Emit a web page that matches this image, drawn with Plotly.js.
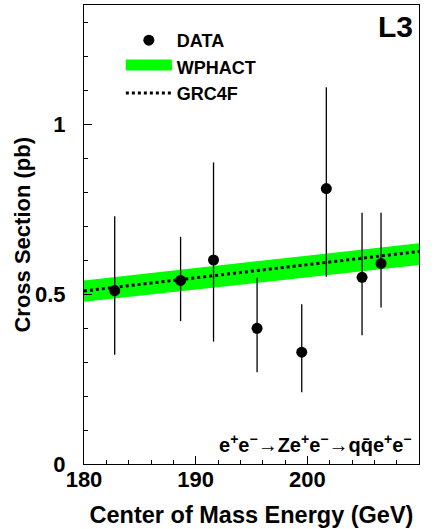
<!DOCTYPE html>
<html>
<head>
<meta charset="utf-8">
<script src="https://cdn.plot.ly/plotly-3.0.1.min.js"></script>
<style>html,body{margin:0;padding:0;background:#fff;}#chart{width:436px;height:529px;}</style>
</head>
<body>
<div id="chart"></div>
<script>
// Measured data (L3, e+e- -> Z e+e- -> q qbar e+e-)
const energy   = [182.75, 188.65, 191.6, 195.5, 199.5, 201.7, 204.9, 206.6];
const xsec     = [0.510, 0.540, 0.600, 0.399, 0.329, 0.810, 0.549, 0.590];
const errUp    = [0.219, 0.128, 0.287, 0.149, 0.141, 0.298, 0.190, 0.149];
const errDown  = [0.189, 0.120, 0.240, 0.129, 0.118, 0.259, 0.170, 0.130];

// WPHACT band and GRC4F prediction
const bandEnergy = [180, 210];
const bandLow    = [0.477, 0.585];
const bandHigh   = [0.540, 0.649];
const grc4f      = [0.509, 0.625];

// Axis ticks
const xRange = [180, 210];
const yRange = [0, 1.35];
const yTickVals = [0, 0.5, 1];
const yTickText = ['0', '0.5', '1'];
const xTickVals = [180, 190, 200, 210];

const FONT = '"Liberation Sans", Arial, Helvetica, sans-serif';
const GREEN = '#00ff00';
const NONE = 'rgba(0,0,0,0)';

const data = [
  { x: bandEnergy, y: bandLow, mode: 'lines', line: {width: 0, color: GREEN},
    showlegend: false, hoverinfo: 'skip' },
  { x: bandEnergy, y: bandHigh, mode: 'lines', line: {width: 0, color: GREEN},
    fill: 'tonexty', fillcolor: GREEN, showlegend: false, hoverinfo: 'skip' },
  { x: bandEnergy, y: grc4f, mode: 'lines', name: 'GRC4F', legendrank: 3,
    line: {color: 'black', width: 3, dash: 'dot'} },
  { x: [null], y: [null], mode: 'lines', name: 'WPHACT', fill: 'toself', legendrank: 2,
    fillcolor: GREEN, line: {color: GREEN, width: 10} },
  { x: energy, y: xsec, mode: 'markers', name: 'DATA', legendrank: 1,
    xaxis: 'x2', yaxis: 'y2',
    marker: {color: 'black', size: 11},
    error_y: {type: 'data', symmetric: false, array: errUp, arrayminus: errDown,
              width: 0, thickness: 1.3, color: 'black'} }
];

const layout = {
  width: 436, height: 529,
  margin: {l: 84, r: 17, t: 5, b: 65},
  paper_bgcolor: 'white', plot_bgcolor: 'white',
  font: {family: FONT, color: 'black', weight: 'bold'},
  showlegend: true,
  legend: {x: 0.11, y: 0.963, xanchor: 'left', yanchor: 'top', traceorder: 'normal',
           bgcolor: NONE, borderwidth: 0, tracegroupgap: 0,
           itemwidth: 46,
           font: {family: FONT, size: 18, weight: 'bold', color: 'black'}},
  // frame, inside ticks and title of the energy axis
  xaxis: {
    range: xRange, tickvals: xTickVals,
    ticks: 'inside', ticklen: 8, tickwidth: 1, tickcolor: 'black',
    minor: {ticks: 'inside', ticklen: 4, dtick: 2, tick0: 180, tickcolor: 'black', showgrid: false},
    showline: true, linecolor: 'black', linewidth: 1, mirror: true,
    showgrid: false, zeroline: false, showticklabels: false,
    title: {text: 'Center of Mass Energy (GeV)', standoff: 42,
            font: {family: FONT, size: 23.5, weight: 'bold'}}
  },
  // energy tick labels
  xaxis2: {
    range: xRange, tickvals: xTickVals, overlaying: 'x', anchor: 'free', position: 0,
    side: 'bottom', ticks: '', showline: false, showgrid: false, zeroline: false,
    tickfont: {family: FONT, size: 22, weight: 'bold'}
  },
  // frame, labels and minor ticks of the cross-section axis
  yaxis: {
    range: yRange, tickvals: yTickVals, ticktext: yTickText,
    ticks: 'outside', ticklen: 13, tickwidth: 1, tickcolor: NONE,
    minor: {ticks: 'inside', ticklen: 4, dtick: 0.1, tick0: 0, tickcolor: 'black', showgrid: false},
    showline: true, linecolor: 'black', linewidth: 1, mirror: true,
    showgrid: false, zeroline: false,
    tickfont: {family: FONT, size: 22, weight: 'bold'}
  },
  // major inside ticks of the cross-section axis
  yaxis2: {
    range: yRange, tickvals: yTickVals, overlaying: 'y', anchor: 'x', side: 'left',
    ticks: 'inside', ticklen: 8, tickwidth: 1, tickcolor: 'black',
    showticklabels: false, showline: false, showgrid: false, zeroline: false
  },
  annotations: [
    {text: 'Cross Section (pb)', xref: 'paper', yref: 'paper', x: -0.185, y: 0.5,
     xanchor: 'center', yanchor: 'middle', textangle: -90, showarrow: false,
     font: {family: FONT, size: 22, weight: 'bold'}},
    {text: 'L3', xref: 'paper', yref: 'paper', x: 0.987, y: 0.953,
     xanchor: 'right', yanchor: 'middle', showarrow: false,
     font: {family: FONT, size: 30, weight: 'bold'}},
    {text: 'e<sup>+</sup>e<sup>\u2212</sup>\u2192Ze<sup>+</sup>e<sup>\u2212</sup>\u2192qq\u0304e<sup>+</sup>e<sup>\u2212</sup>',
     xref: 'paper', yref: 'paper', x: 0.985, y: 0.045,
     xanchor: 'right', yanchor: 'middle', showarrow: false,
     font: {family: FONT, size: 20, weight: 'bold'}}
  ]
};

Plotly.newPlot('chart', data, layout, {staticPlot: true, displayModeBar: false});
</script>
</body>
</html>
